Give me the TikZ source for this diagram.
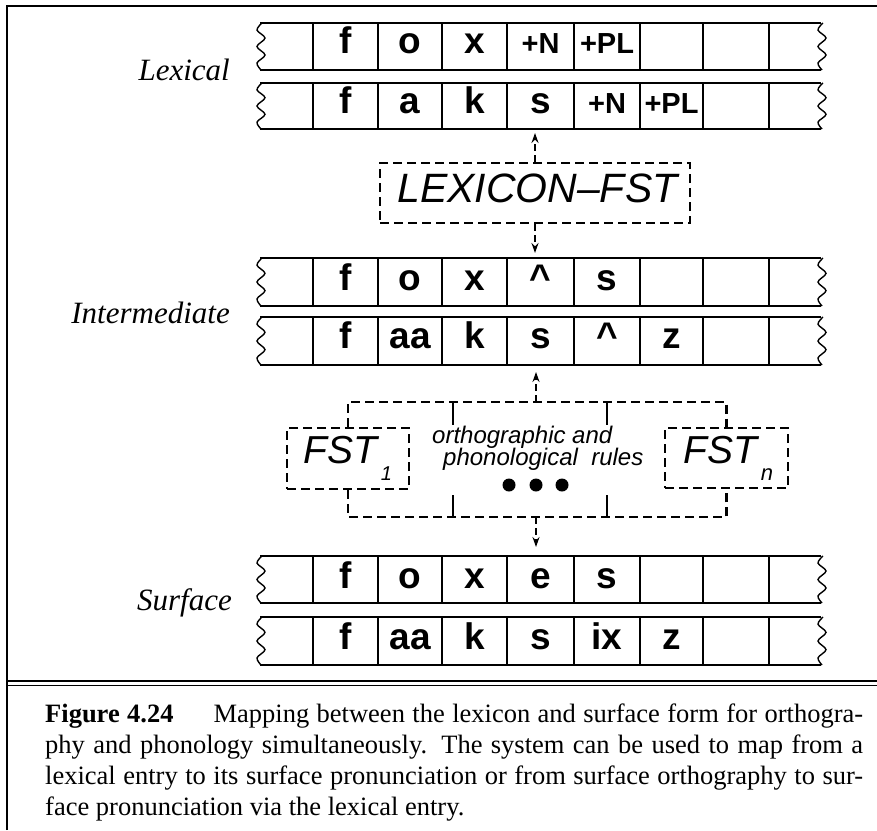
\documentclass[tikz,border=0pt]{standalone}
\usepackage{fontspec}
\setmainfont{Liberation Serif}
\newfontfamily\hvfont{Liberation Sans}
\usetikzlibrary{arrows.meta}
\newcommand\squig[3]{\pgfmathsetmacro\hh{#3-#2}%
  \draw[squigline] plot[smooth,tension=0.55] coordinates {({#1+2},#2) ({#1-3},{#2+0.15*\hh}) ({#1+5},{#2+0.32*\hh}) ({#1-3},{#2+0.5*\hh}) ({#1+5},{#2+0.68*\hh}) ({#1-3},{#2+0.85*\hh}) ({#1+1},#3)};}
\newcommand\tapebody[2]{%
  \draw[tapeline] (260,#1) -- (821,#1);
  \draw[tapeline] (260,#2) -- (821,#2);
  \foreach \xx in {313,378,442,507,574,640,703,769} {\draw[celline] (\xx,#1) -- (\xx,#2);}
  \squig{260}{#1}{#2}\squig{821}{#1}{#2}}
\newcommand\smtag[1]{{\fontsize{29}{29}\selectfont #1}}
\begin{document}
\begin{tikzpicture}[x=1pt,y=-1pt,
  tapeline/.style={line width=1.8pt},
  celline/.style={line width=1.5pt},
  squigline/.style={line width=1.4pt},
  cell/.style={anchor=base, inner sep=0pt, font=\hvfont\bfseries\fontsize{37}{37}\selectfont},
  dashbox/.style={draw, line width=2.3pt, dash pattern=on 9pt off 5pt, inner sep=0pt},
  dashline/.style={line width=2.3pt, dash pattern=on 9pt off 5pt},
  dasharrow/.style={line width=2.3pt, dash pattern=on 7pt off 4pt, -{Stealth[length=10pt,width=7pt]}},
  tick/.style={line width=1.5pt},
  lvl/.style={anchor=base east, inner sep=0pt, font=\itshape\fontsize{31}{31}\selectfont},
  boxtext/.style={anchor=base west, inner sep=0pt, font=\hvfont\itshape\fontsize{41}{41}\selectfont},
  fsttext/.style={anchor=base west, inner sep=0pt, font=\hvfont\itshape\fontsize{39}{39}\selectfont},
  ruletext/.style={anchor=base west, inner sep=0pt, font=\hvfont\itshape\fontsize{24}{24}\selectfont},
  dot/.style={circle, fill, inner sep=0pt, minimum size=13pt}
  ]
\useasboundingbox (0,0) rectangle (877,830);
% frame
\draw[line width=2.5pt] (7,830) -- (7,6) -- (877,6);
\draw[line width=2.2pt] (7,681) -- (877,681);
\draw[line width=1.8pt] (7,685.5) -- (877,685.5);
% tapes
\tapebody{23}{70}
\tapebody{83}{129}
\tapebody{258}{306}
\tapebody{317}{365}
\tapebody{556}{603}
\tapebody{617}{665}
% tape contents
\foreach \cx/\t [count=\i] in {345.5/f,410/o,474.5/x,540.5/\smtag{+N},607/\smtag{+PL}}
  \node[cell] (la\i) at (\cx,53) {\t};
\foreach \cx/\t [count=\i] in {345.5/f,410/a,474.5/k,540.5/s,607/\smtag{+N},671.5/\smtag{+PL}}
  \node[cell] (lb\i) at (\cx,113) {\t};
\foreach \cx/\t [count=\i] in {345.5/f,410/o,474.5/x,540.5/\textasciicircum,607/s}
  \node[cell] (ia\i) at (\cx,290) {\t};
\foreach \cx/\t [count=\i] in {345.5/f,410/aa,474.5/k,540.5/s,607/\textasciicircum,671.5/z}
  \node[cell] (ib\i) at (\cx,348) {\t};
\foreach \cx/\t [count=\i] in {345.5/f,410/o,474.5/x,540.5/e,607/s}
  \node[cell] (sa\i) at (\cx,588) {\t};
\foreach \cx/\t [count=\i] in {345.5/f,410/aa,474.5/k,540.5/s,607/ix,671.5/z}
  \node[cell] (sb\i) at (\cx,649) {\t};
% level labels
\node[lvl] (lexlab) at (230,80) {Lexical};
\node[lvl] (intlab) at (230,323) {Intermediate};
\node[lvl] (surlab) at (232,610) {Surface};
% lexicon fst
\node[dashbox, minimum width=310pt, minimum height=60pt] (lex) at (535,193) {};
\node[boxtext] (lext) at (397,202) {LEXICON–FST};
\coordinate (a1) at (535,133);
\coordinate (a2) at (535,253);
\draw[dasharrow] (lex.north) -- (a1);
\draw[dasharrow] (lex.south) -- (a2);
% FST boxes
\node[dashbox, minimum width=122pt, minimum height=61pt] (fst1) at (348,458.5) {};
\node[dashbox, minimum width=123pt, minimum height=60pt] (fstn) at (726.5,458) {};
\node[fsttext] (fst1t) at (303,463) {FST\hspace{4pt}\raisebox{-17pt}{\fontsize{20}{20}\selectfont 1}};
\node[fsttext] (fstnt) at (683,463) {FST\hspace{4pt}\raisebox{-17pt}{\fontsize{22}{22}\selectfont n}};
\coordinate (tb) at (536,402);
\coordinate (bb) at (536,517);
\draw[dashline] (fst1.north) |- (tb) -| (fstn.north);
\draw[dashline] (fst1.south) |- (bb) -| (fstn.south);
\draw[tick] (453,402) -- (453,425);
\draw[tick] (607,402) -- (607,425);
\draw[tick] (453,517) -- (453,495);
\draw[tick] (607,517) -- (607,495);
\coordinate (a3) at (536,372);
\coordinate (a4) at (536,547);
\draw[dasharrow] (tb) -- (a3);
\draw[dasharrow] (bb) -- (a4);
\node[ruletext] (r1) at (432,443) {orthographic and};
\node[ruletext] (r2) at (443,465) {phonological\ \ rules};
\node[dot] (d1) at (509,485) {};
\node[dot] (d2) at (536,485) {};
\node[dot] (d3) at (562,485) {};
% caption
\node[anchor=base west, inner sep=0pt, text width=818pt, align=justify, font=\fontsize{26.5}{31}\selectfont] (cap) at (45,722)
 {\noindent\textbf{Figure 4.24}\hspace{40pt}Mapping between the lexicon and surface form for orthogra-\linebreak
 phy and phonology simultaneously. The system can be used to map from a\linebreak
 lexical entry to its surface pronunciation or from surface orthography to sur-\linebreak
 face pronunciation via the lexical entry.};
\end{tikzpicture}
\end{document}
